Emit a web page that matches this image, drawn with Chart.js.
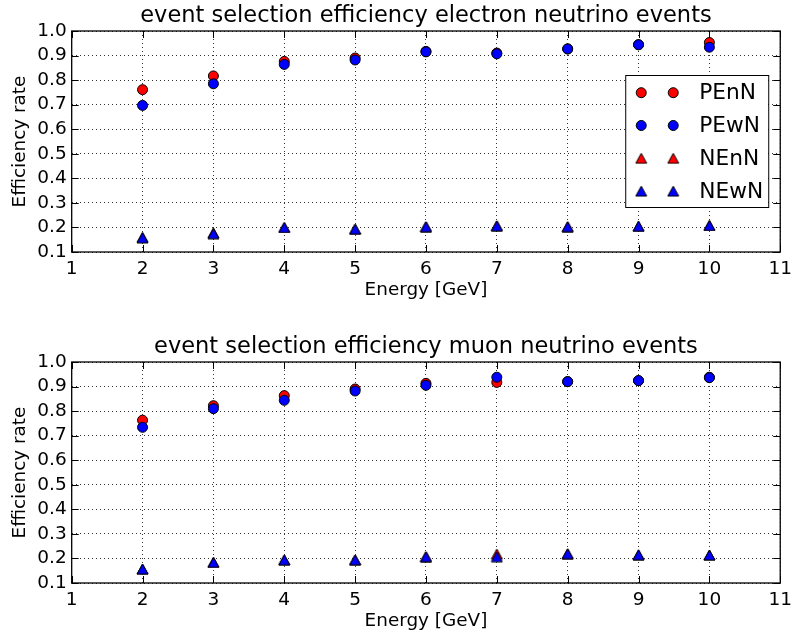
<!DOCTYPE html>
<html>
<head>
<meta charset="utf-8">
<script src="https://cdn.jsdelivr.net/npm/chart.js@4.4.1/dist/chart.umd.min.js"></script>
<style>
  html, body { margin: 0; padding: 0; background: #fff; overflow: hidden; }
  #wrap { position: relative; width: 798px; height: 635px; overflow: hidden; }
  .panel { position: absolute; left: 0; width: 798px; height: 331px; }
</style>
</head>
<body>
<div id="wrap">
  <div class="panel" style="top:0"><canvas id="elecChart" width="798" height="331"></canvas></div>
  <div class="panel" style="top:331px"><canvas id="muonChart" width="798" height="331"></canvas></div>
</div>
<script>
const energy = [2, 3, 4, 5, 6, 7, 8, 9, 10];

// electron neutrino events
const elecPEnN = [0.761, 0.817, 0.876, 0.890, 0.917, 0.910, 0.927, 0.944, 0.953];
const elecPEwN = [0.697, 0.785, 0.864, 0.882, 0.915, 0.907, 0.927, 0.944, 0.934];
const elecNEnN = [0.160, 0.178, 0.200, 0.193, 0.203, 0.207, 0.203, 0.205, 0.208];
const elecNEwN = [0.158, 0.175, 0.200, 0.193, 0.203, 0.206, 0.203, 0.205, 0.208];

// muon neutrino events
const muonPEnN = [0.763, 0.822, 0.863, 0.890, 0.913, 0.917, 0.920, 0.924, 0.938];
const muonPEwN = [0.734, 0.810, 0.844, 0.882, 0.905, 0.938, 0.920, 0.924, 0.936];
const muonNEnN = [0.157, 0.184, 0.194, 0.194, 0.207, 0.218, 0.219, 0.215, 0.214];
const muonNEwN = [0.157, 0.184, 0.194, 0.194, 0.207, 0.207, 0.219, 0.215, 0.214];

const seriesNames = ['PEnN', 'PEwN', 'NEnN', 'NEwN'];
const xTicks = [1, 2, 3, 4, 5, 6, 7, 8, 9, 10, 11];
const yTicks = [0.1, 0.2, 0.3, 0.4, 0.5, 0.6, 0.7, 0.8, 0.9, 1.0];

const FONT = 'DejaVu Sans';
const RED = '#ff0000';
const BLUE = '#0000ff';

// matplotlib style '^' marker, centred on its bounding box
function triangleMarker(fill) {
    const c = document.createElement('canvas');
    c.width = 13; c.height = 12;
    const g = c.getContext('2d');
    g.beginPath();
    g.moveTo(6.5, 1); g.lineTo(12, 11); g.lineTo(1, 11); g.closePath();
    g.fillStyle = fill; g.fill();
    g.lineWidth = 1; g.strokeStyle = '#000'; g.stroke();
    return c;
}
const redTri = triangleMarker(RED);
const blueTri = triangleMarker(BLUE);

const styles = [
    { color: RED,  point: 'circle', order: 1 },
    { color: BLUE, point: 'circle', order: 0 },
    { color: RED,  point: redTri,   order: 1 },
    { color: BLUE, point: blueTri,  order: 0 }
];

// box around the axes + inward tick marks on all four sides
const axesFrame = {
    id: 'axesFrame',
    beforeDatasetsDraw(chart) {
        const { ctx, chartArea: a, scales } = chart;
        ctx.save();
        ctx.strokeStyle = '#000';
        ctx.lineWidth = 1;
        ctx.beginPath();
        xTicks.forEach(v => {
            const x = Math.round(scales.x.getPixelForValue(v)) + 0.5;
            ctx.moveTo(x, a.bottom); ctx.lineTo(x, a.bottom - 7);
            ctx.moveTo(x, a.top); ctx.lineTo(x, a.top + 7);
        });
        yTicks.forEach(v => {
            const y = Math.round(scales.y.getPixelForValue(v)) + 0.5;
            ctx.moveTo(a.left, y); ctx.lineTo(a.left + 7, y);
            ctx.moveTo(a.right, y); ctx.lineTo(a.right - 7, y);
        });
        ctx.stroke();
        ctx.lineWidth = 1.3;
        ctx.strokeRect(a.left, a.top, a.right - a.left, a.bottom - a.top);
        ctx.restore();
    }
};

// legend with two markers per entry, inside the axes on the right
const pairLegend = {
    id: 'pairLegend',
    afterDraw(chart, args, opts) {
        if (!opts.show) return;
        const { ctx, chartArea: a } = chart;
        const right = a.right - 12, left = right - 143;
        const top = a.top + 44, rowH = 32.8;
        ctx.save();
        ctx.fillStyle = '#fff';
        ctx.fillRect(left, top, right - left, 132);
        ctx.strokeStyle = '#000';
        ctx.lineWidth = 1;
        ctx.strokeRect(left + 0.5, top + 0.5, right - left, 132);
        ctx.font = '21.7px "' + FONT + '"';
        ctx.textBaseline = 'middle';
        seriesNames.forEach((name, i) => {
            const y = top + 17.7 + i * rowH;
            const s = styles[i];
            [left + 16, left + 48].forEach(x => {
                if (s.point === 'circle') {
                    ctx.fillStyle = s.color;
                    ctx.strokeStyle = '#000';
                    ctx.beginPath(); ctx.arc(x, y, 5, 0, Math.PI * 2);
                    ctx.fill(); ctx.stroke();
                } else {
                    ctx.drawImage(s.point, x - s.point.width / 2, y - s.point.height / 2);
                }
            });
            ctx.fillStyle = '#000';
            ctx.fillText(name, left + 74, y + 1);
        });
        ctx.restore();
    }
};

function makeChart(id, title, values, showLegend) {
    const datasets = values.map((vals, i) => ({
        label: seriesNames[i],
        data: energy.map((e, j) => ({ x: e, y: vals[j] })),
        backgroundColor: styles[i].color,
        borderColor: '#000',
        borderWidth: 1,
        pointStyle: styles[i].point,
        pointRadius: 5,
        pointHoverRadius: 5,
        order: styles[i].order
    }));

    return new Chart(document.getElementById(id), {
        type: 'scatter',
        data: { datasets },
        plugins: [axesFrame, pairLegend],
        options: {
            responsive: false,
            animation: false,
            events: [],
            layout: { padding: { left: 0, right: 16.3, top: 0, bottom: 29.5 } },
            plugins: {
                legend: { display: false },
                tooltip: { enabled: false },
                pairLegend: { show: showLegend },
                title: {
                    display: true, text: title, color: '#000', fullSize: false,
                    font: { family: FONT, size: 22.5, weight: 'normal' },
                    padding: { top: 3, bottom: 1 }
                }
            },
            scales: {
                x: {
                    type: 'linear', min: 1, max: 11,
                    afterBuildTicks: s => { s.ticks = xTicks.map(v => ({ value: v })); },
                    ticks: {
                        color: '#000', padding: 6, maxRotation: 0, autoSkip: false,
                        font: { family: FONT, size: 18.5 }
                    },
                    grid: { color: '#000', lineWidth: 0.8, drawTicks: false },
                    border: { display: false, dash: [1, 3] },
                    title: {
                        display: true, text: 'Energy [GeV]', color: '#000',
                        font: { family: FONT, size: 18.4 }, padding: 0
                    },
                    afterFit: s => { s.height = 49.5; }
                },
                y: {
                    type: 'linear', min: 0.1, max: 1.0,
                    afterBuildTicks: s => { s.ticks = yTicks.map(v => ({ value: v })); },
                    ticks: {
                        color: '#000', padding: 5, autoSkip: false,
                        font: { family: FONT, size: 18.5 },
                        callback: v => v.toFixed(1)
                    },
                    grid: { color: '#000', lineWidth: 0.8, drawTicks: false },
                    border: { display: false, dash: [1, 3] },
                    title: {
                        display: true, text: 'Efficiency rate', color: '#000',
                        font: { family: FONT, size: 18.4 }, padding: { top: 9.5 }
                    },
                    afterFit: s => { s.width = 71.7; }
                }
            }
        }
    });
}

makeChart('elecChart', 'event selection efficiency electron neutrino events',
    [elecPEnN, elecPEwN, elecNEnN, elecNEwN], true);
makeChart('muonChart', 'event selection efficiency muon neutrino events',
    [muonPEnN, muonPEwN, muonNEnN, muonNEwN], false);
</script>
</body>
</html>
